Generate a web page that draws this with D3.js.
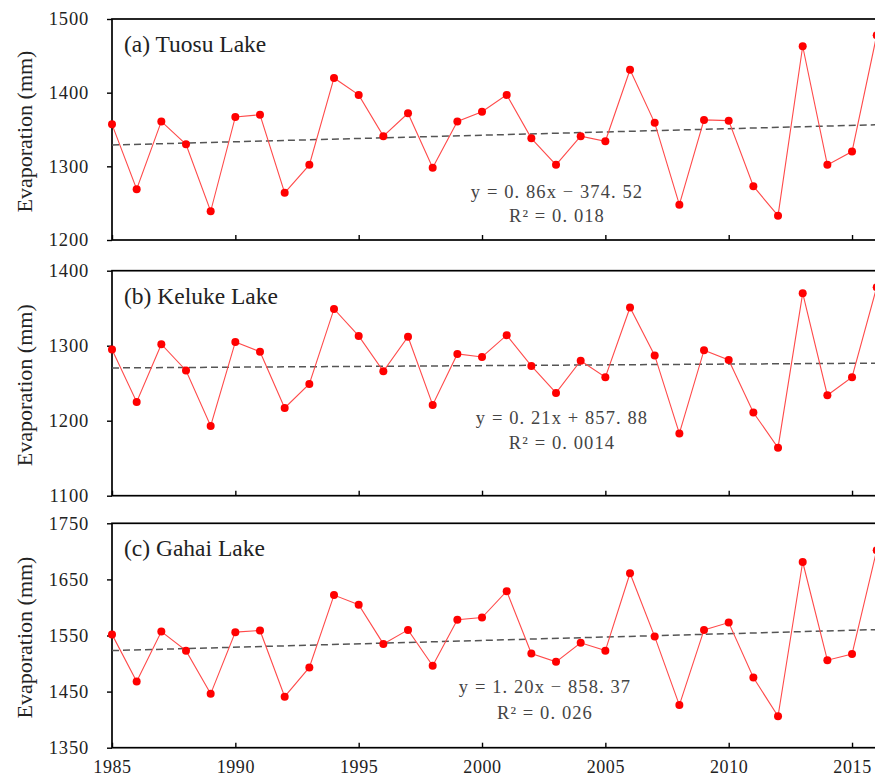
<!DOCTYPE html>
<html><head><meta charset="utf-8">
<script src="https://cdn.jsdelivr.net/npm/d3@7"></script>
<style>body{margin:0;background:#fff}svg{display:block}</style>
</head><body>
<script>
const years = d3.range(1985, 2017);
const tuosu = [1357,1269,1361,1330,1239,1367,1370,1264,1302,1420,1397,1341,1372,1298,1361,1374,1397,1338,1302,1341,1334,1431,1359,1248,1363,1362,1273,1233,1463,1302,1320,1478];
const keluke = [1295,1225,1302,1267,1193,1305,1292,1217,1249,1349,1313,1266,1312,1221,1289,1285,1314,1273,1237,1280,1258,1351,1287,1183,1294,1281,1211,1164,1370,1234,1258,1378];
const gahai = [1552,1468,1557,1523,1446,1556,1559,1441,1493,1622,1605,1535,1560,1496,1578,1582,1629,1518,1503,1537,1523,1661,1548,1426,1560,1573,1475,1406,1681,1506,1517,1702];
const panelTitles = ["(a) Tuosu Lake", "(b) Keluke Lake", "(c) Gahai Lake"];
const yDomains = [[1200,1500],[1100,1400],[1350,1750]];
const yTicks = [[1200,1300,1400,1500],[1100,1200,1300,1400],[1350,1450,1550,1650,1750]];
const eqLines = [["y = 0. 86x \u2212 374. 52","R\u00b2 = 0. 018"],["y = 0. 21x + 857. 88","R\u00b2 = 0. 0014"],["y = 1. 20x \u2212 858. 37","R\u00b2 = 0. 026"]];
const xTicks = [1985,1990,1995,2000,2005,2010,2015];
const series = [tuosu, keluke, gahai];

const W = 875, H = 778;
const serif = "'Liberation Serif', 'Times New Roman', serif";
const svg = d3.select("body").append("svg").attr("width", W).attr("height", H);
const x = d3.scaleLinear().domain([1985, 2016]).range([112, 876.7]);
const panelTop = [19, 270.7, 523.3];
const panelBot = [240, 495.7, 747.7];
const eqPos = [[557,192,216],[562,418,443],[545,687,713]];

function ols(xs, ys){
  const mx = d3.mean(xs), my = d3.mean(ys);
  let sxy=0, sxx=0;
  xs.forEach((v,i)=>{sxy+=(v-mx)*(ys[i]-my); sxx+=(v-mx)*(v-mx);});
  const b = sxy/sxx; return [b, my-b*mx];
}

series.forEach((vals, p) => {
  const y = d3.scaleLinear().domain(yDomains[p]).range([panelBot[p], panelTop[p]]);
  const g = svg.append("g");
  g.append("rect").attr("x", x(1985)).attr("y", panelTop[p])
    .attr("width", x(2016)-x(1985)).attr("height", panelBot[p]-panelTop[p])
    .attr("fill","none").attr("stroke","#000").attr("stroke-width",1.7);
  const ya = g.append("g").attr("transform",`translate(${x(1985)},0)`)
    .call(d3.axisLeft(y).tickValues(yTicks[p]).tickSize(5).tickPadding(18).tickFormat(d3.format("d")));
  ya.select(".domain").remove();
  ya.selectAll("line").attr("stroke","#000").attr("stroke-width",1.4);
  ya.selectAll("text").attr("font-family",serif).attr("font-size",18.5).attr("letter-spacing","0.8px").attr("fill","#222");
  const xa = g.append("g").attr("transform",`translate(0,${panelBot[p]})`)
    .call(d3.axisTop(x).tickValues(xTicks).tickSize(5).tickFormat(""));
  xa.select(".domain").remove();
  xa.selectAll("line").attr("stroke","#000").attr("stroke-width",1.4);
  if (p === 2) {
    const xb = g.append("g").attr("transform",`translate(0,${panelBot[p]})`)
      .call(d3.axisBottom(x).tickValues(xTicks).tickSize(0).tickPadding(13).tickFormat(d3.format("d")));
    xb.select(".domain").remove();
    xb.selectAll("text").attr("font-family",serif).attr("font-size",18).attr("letter-spacing","0.6px").attr("fill","#222");
  }
  g.append("text").attr("transform",`translate(32,${(panelTop[p]+panelBot[p])/2 + 2}) rotate(-90)`)
    .attr("text-anchor","middle").attr("font-family",serif).attr("font-size",22).attr("fill","#222")
    .text("Evaporation (mm)");
  g.append("text").attr("x",124).attr("y",panelTop[p]+33).attr("font-family",serif)
    .attr("font-size",23.5).attr("fill","#222").text(panelTitles[p]);
  const [b,a] = ols(years, vals);
  g.append("line").attr("x1",x(1985)).attr("x2",x(2016)).attr("y1",y(a+b*1985)).attr("y2",y(a+b*2016))
    .attr("stroke","#555").attr("stroke-width",1.5).attr("stroke-dasharray","7,4");
  const line = d3.line().x((d,i)=>x(years[i])).y(d=>y(d));
  g.append("path").datum(vals).attr("d",line).attr("fill","none").attr("stroke","#ff4a4a").attr("stroke-width",1.1);
  g.selectAll("circle").data(vals).join("circle").attr("cx",(d,i)=>x(years[i])).attr("cy",d=>y(d)).attr("r",4).attr("fill","#ff0000");
  const e = eqPos[p];
  eqLines[p].forEach((t,k)=>{
    g.append("text").attr("x",e[0]).attr("y",e[1+k]).attr("dy","0.35em").attr("text-anchor","middle")
      .attr("font-family",serif).attr("font-size",18.5).attr("letter-spacing","1.1px").attr("fill","#444")
      .attr("xml:space","preserve").style("white-space","pre").text(t);
  });
});
</script>
</body></html>
